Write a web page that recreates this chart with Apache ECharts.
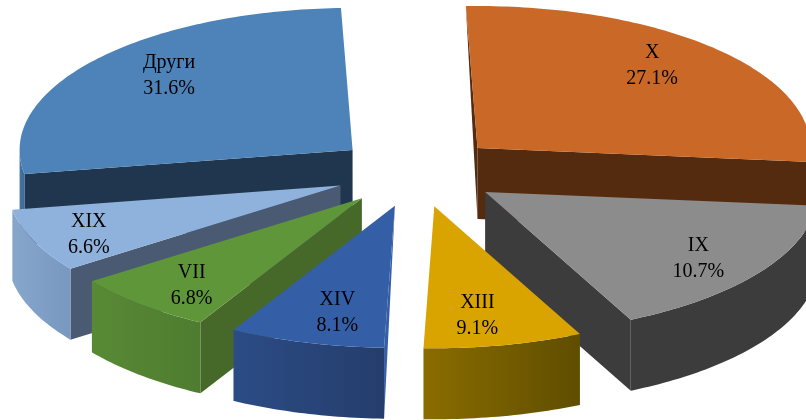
<!DOCTYPE html>
<html><head><meta charset="utf-8">
<style>html,body{margin:0;padding:0;background:#fff}#c{width:806px;height:420px}</style>
<script src="https://cdn.jsdelivr.net/npm/echarts@6/dist/echarts.min.js"></script>
</head><body><div id="c"></div>
<script>
// data, clockwise from 12 o'clock
const categories = ['X','IX','XIII','XIV','VII','XIX','Други'];
const shares = [27.1,10.7,9.1,8.1,6.8,6.6,31.6];
// styles
const topColors = ['#c96827','#8c8c8c','#daa400','#345ea6','#5f963a','#8fb2dc','#4d83b8'];
const rimColors = [['#552b10','#552b10'],['#3c3c3c','#3c3c3c'],['#8a6c00','#5f4d00'],['#2c4c86','#243d6c'],['#588a35','#4f7c2f'],['#86a6cc','#7898c0'],['#4274a5','#3c6a96']];
const faceColors = ['#552b10','#3c3c3c','#5f4d00','#345ea6','#46692a','#4a5a72','#20364e'];
const labelReach = [[0.72,0.85],[0.78,0.82],[0.62,0.785],[0.65,0.785],[0.77,0.82],[0.82,0.89],[0.71,0.83]];
const paintOrder = [6,0,5,1,4,3,2];
// 3D view of the pie
const view = {cx:417, cy:172, rx:333, ry:142, depth:71, ex:83, ey:35};
// angular distortion of the view: [true angle, shift in degrees]
const viewShift = [[0,-2],[98,-2],[136,18],[169,13],[198,11],[222.5,11.7],[246,14],[360,-2]];

function warp(a){
  for(let i=1;i<viewShift.length;i++){
    const p=viewShift[i-1], q=viewShift[i];
    if(a<=q[0]) return a + p[1] + (q[1]-p[1])*(a-p[0])/(q[0]-p[0]);
  }
  return a + viewShift[viewShift.length-1][1];
}
const rad = d => d*Math.PI/180;
const dir = d => [Math.sin(rad(d)), -Math.cos(rad(d))];
const total = shares.reduce((s,v)=>s+v,0);
let run = 0;
const slices = shares.map(v=>{
  const a0 = warp(run/total*360); run += v;
  const a1 = warp(run/total*360);
  const mid = (a0+a1)/2, m = dir(mid);
  return {a0,a1,mid,apex:[view.cx+view.ex*m[0], view.cy+view.ey*m[1]]};
});
const rimPoint = (s,a,dy=0)=>{const d=dir(a);return [s.apex[0]+view.rx*d[0], s.apex[1]+view.ry*d[1]+dy];};

function cutFace(s, a, color){
  const A = s.apex, B = rimPoint(s,a), M = rimPoint(s,s.mid);
  const d = [B[0]-A[0],B[1]-A[1]];
  const inner = d[0]*(M[1]-A[1]) - d[1]*(M[0]-A[0]);
  const down = d[0];
  if(inner*down >= 0) return null;
  const h = view.depth;
  let pts;
  if(Math.abs(d[0])<20){
    const up = A[1]<B[1]?A:B, lo = A[1]<B[1]?B:A;
    pts = [up,lo,[lo[0],lo[1]+h]];
  } else pts = [A,B,[B[0],B[1]+h],[A[0],A[1]+h]];
  return {type:'polygon',shape:{points:pts},style:{fill:color}};
}

function renderItem(params, api){
  const i = api.value(0), s = slices[i], kids = [];
  [s.a0,s.a1].forEach(a=>{const f=cutFace(s,a,faceColors[i]); if(f) kids.push(f);});
  const lo = Math.max(s.a0,90), hi = Math.min(s.a1,270);
  if(hi>lo){
    const up=[],dn=[];
    for(let a=lo;;a+=1){const t=Math.min(a,hi);up.push(rimPoint(s,t));dn.unshift(rimPoint(s,t,view.depth));if(t>=hi)break;}
    kids.push({type:'polygon',shape:{points:up.concat(dn)},style:{fill:{type:'linear',x:0,y:0,x2:1,y2:0,colorStops:[{offset:0,color:rimColors[i][0]},{offset:1,color:rimColors[i][1]}]}}});
  }
  const top=[s.apex];
  for(let a=s.a0;;a+=1){const t=Math.min(a,s.a1);top.push(rimPoint(s,t));if(t>=s.a1)break;}
  kids.push({type:'polygon',shape:{points:top},style:{fill:topColors[i]}});
  const m=dir(s.mid), r=labelReach[i];
  kids.push({type:'text',x:s.apex[0]+view.rx*m[0]*r[0],y:s.apex[1]+view.ry*m[1]*r[1],
    style:{text:categories[i]+'\n'+api.value(1).toFixed(1)+'%',fill:'#000',
      font:'20px "Liberation Serif"',lineHeight:26,align:'center',verticalAlign:'middle'}});
  return {type:'group',children:kids};
}

const chart = echarts.init(document.getElementById('c'));
chart.setOption({
  animation:false,
  backgroundColor:'#fff',
  series:[{type:'custom',coordinateSystem:'none',silent:true,clip:false,
    data:paintOrder.map(i=>[i,shares[i]]),
    encode:{value:[0,1]},
    renderItem}]
});
</script></body></html>
